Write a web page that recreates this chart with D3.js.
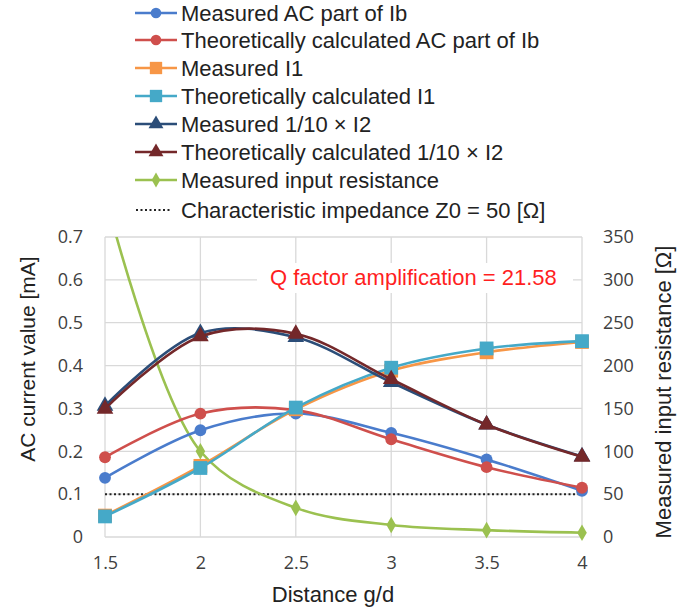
<!DOCTYPE html>
<html>
<head>
<meta charset="utf-8">
<script src="https://cdn.jsdelivr.net/npm/d3@7"></script>
<style>
  body { margin: 0; background: #fff; }
  svg { font-family: "Liberation Sans", Arial, sans-serif; }
</style>
</head>
<body>
<svg id="chart" width="688" height="614"></svg>
<script>
// ---- data ----
var distance = [1.5, 2, 2.5, 3, 3.5, 4];

var measIb   = [0.138, 0.249, 0.288, 0.243, 0.181, 0.108];
var theoIb   = [0.186, 0.288, 0.296, 0.228, 0.163, 0.115];
var measI1   = [0.050, 0.166, 0.298, 0.388, 0.431, 0.455];
var theoI1   = [0.048, 0.161, 0.302, 0.395, 0.440, 0.457];
var measI2   = [0.306, 0.476, 0.466, 0.361, 0.262, 0.188];
var theoI2   = [0.299, 0.468, 0.474, 0.368, 0.262, 0.187];
var inputRes = [400, 100, 34, 14, 8, 5];
var z0 = 50;

var leftTicks  = [0, 0.1, 0.2, 0.3, 0.4, 0.5, 0.6, 0.7];
var rightTicks = [0, 50, 100, 150, 200, 250, 300, 350];
var xTicks     = [1.5, 2, 2.5, 3, 3.5, 4];

var series = [
  { name: 'Measured AC part of Ib',              values: measIb, color: '#4a7ccc', marker: 'circle' },
  { name: 'Theoretically calculated AC part of Ib', values: theoIb, color: '#cf4f4c', marker: 'circle' },
  { name: 'Measured I1',                          values: measI1, color: '#f79646', marker: 'square' },
  { name: 'Theoretically calculated I1',          values: theoI1, color: '#45a9c8', marker: 'square' },
  { name: 'Measured 1/10 \u00d7 I2',              values: measI2, color: '#2b4d78', marker: 'triangle' },
  { name: 'Theoretically calculated 1/10 \u00d7 I2', values: theoI2, color: '#74282a', marker: 'triangle' }
];
var resSeries = { name: 'Measured input resistance', values: inputRes, color: '#9bc150', marker: 'diamond' };

// ---- layout ----
var svg = d3.select('#chart');
var plotL = 105, plotR = 582, plotT = 237, plotB = 537;

var xScale = d3.scaleLinear().domain([1.5, 4]).range([plotL, plotR]);
var yScale = d3.scaleLinear().domain([0, 0.7]).range([plotB, plotT]);
var y2Scale = d3.scaleLinear().domain([0, 350]).range([plotB, plotT]);

var tickFont = '"Open Sans", "Liberation Sans", sans-serif';

// grid
var grid = svg.append('g');
grid.selectAll('.hg').data(leftTicks).enter().append('line')
  .attr('x1', plotL).attr('x2', plotR)
  .attr('y1', d => yScale(d)).attr('y2', d => yScale(d))
  .style('stroke', '#d9d9d9').style('stroke-width', 1.3);
grid.selectAll('.vg').data(xTicks).enter().append('line')
  .attr('x1', d => xScale(d)).attr('x2', d => xScale(d))
  .attr('y1', plotT).attr('y2', plotB)
  .style('stroke', '#d9d9d9').style('stroke-width', 1.3);

// axes (tick text only, Excel style)
var leftAxis = svg.append('g').attr('transform', 'translate(' + plotL + ',0)')
  .call(d3.axisLeft(yScale).tickValues(leftTicks).tickSize(0).tickPadding(22).tickFormat(d3.format('')));
var rightAxis = svg.append('g').attr('transform', 'translate(' + plotR + ',0)')
  .call(d3.axisRight(y2Scale).tickValues(rightTicks).tickSize(0).tickPadding(21).tickFormat(d3.format('')));
var bottomAxis = svg.append('g').attr('transform', 'translate(0,' + plotB + ')')
  .call(d3.axisBottom(xScale).tickValues(xTicks).tickSize(0).tickPadding(19).tickFormat(d3.format('')));
[leftAxis, rightAxis, bottomAxis].forEach(a => {
  a.select('.domain').remove();
  a.selectAll('text').style('font-size', '18px').style('fill', '#404040').style('font-family', tickFont);
});

// clip to plot area
svg.append('clipPath').attr('id', 'plotClip').append('rect')
  .attr('x', plotL - 20).attr('y', plotT).attr('width', plotR - plotL + 40).attr('height', plotB - plotT + 20);

var plot = svg.append('g').attr('clip-path', 'url(#plotClip)');

// characteristic impedance line (right axis value)
plot.append('line')
  .attr('x1', xScale(1.5)).attr('x2', xScale(4))
  .attr('y1', y2Scale(z0)).attr('y2', y2Scale(z0))
  .style('stroke', '#222').style('stroke-width', 2).style('stroke-dasharray', '2,2.5');

// Q factor label with white box
plot.append('rect').attr('x', 257).attr('y', 263).attr('width', 316).attr('height', 30).style('fill', '#fff');
svg.append('text').attr('x', 270).attr('y', 285)
  .style('font-size', '22px').style('fill', '#ff1f1f')
  .text('Q factor amplification = 21.58');

var curve = d3.curveCatmullRom.alpha(0.5);

function markerPath(type, size) {
  var sym = { circle: d3.symbolCircle, square: d3.symbolSquare, triangle: d3.symbolTriangle, diamond: d3.symbolDiamond }[type];
  return d3.symbol().type(sym).size(size)();
}
var markerSize = { circle: 110, square: 190, triangle: 120, diamond: 80 };

function drawSeries(s, ys) {
  var line = d3.line().x((d, i) => xScale(distance[i])).y(d => ys(d)).curve(curve);
  var g = plot.append('g');
  g.append('path').attr('d', line(s.values))
    .style('fill', 'none').style('stroke', s.color).style('stroke-width', 2.6);
  g.selectAll('path.mk').data(s.values).enter().append('path')
    .attr('class', 'mk')
    .attr('transform', (d, i) => 'translate(' + xScale(distance[i]) + ',' + ys(d) + ')')
    .attr('d', markerPath(s.marker, markerSize[s.marker]))
    .style('fill', s.color);
}

drawSeries(resSeries, y2Scale);
series.forEach(s => drawSeries(s, yScale));

// axis titles
svg.append('text').attr('transform', 'translate(35,359) rotate(-90)')
  .attr('text-anchor', 'middle').style('font-size', '21px').style('fill', '#222')
  .text('AC current value [mA]');
svg.append('text').attr('transform', 'translate(671,392) rotate(-90)')
  .attr('text-anchor', 'middle').style('font-size', '22px').style('fill', '#222')
  .text('Measured input resistance [\u03a9]');
svg.append('text').attr('x', 333).attr('y', 602)
  .attr('text-anchor', 'middle').style('font-size', '22px').style('fill', '#222')
  .text('Distance g/d');

// legend
var legendItems = series.concat([resSeries, { name: 'Characteristic impedance Z0 = 50 [\u03a9]', color: '#222', marker: 'dotted' }]);
var legend = svg.append('g');
var rowY = [13, 40, 68, 96, 124, 152, 180, 210];
legendItems.forEach((s, i) => {
  var g = legend.append('g').attr('transform', 'translate(0,' + rowY[i] + ')');
  if (s.marker === 'dotted') {
    g.append('line').attr('x1', 136).attr('x2', 171).attr('y1', 0).attr('y2', 0)
      .style('stroke', '#222').style('stroke-width', 2).style('stroke-dasharray', '2,2.5');
  } else {
    g.append('line').attr('x1', 135).attr('x2', 177).attr('y1', 0).attr('y2', 0)
      .style('stroke', s.color).style('stroke-width', 2.6);
    g.append('path').attr('transform', 'translate(156,0)')
      .attr('d', markerPath(s.marker, markerSize[s.marker] * 0.8)).style('fill', s.color);
  }
  g.append('text').attr('x', 181).attr('y', 8)
    .style('font-size', '22px').style('fill', '#222').text(s.name);
});
</script>
</body>
</html>
